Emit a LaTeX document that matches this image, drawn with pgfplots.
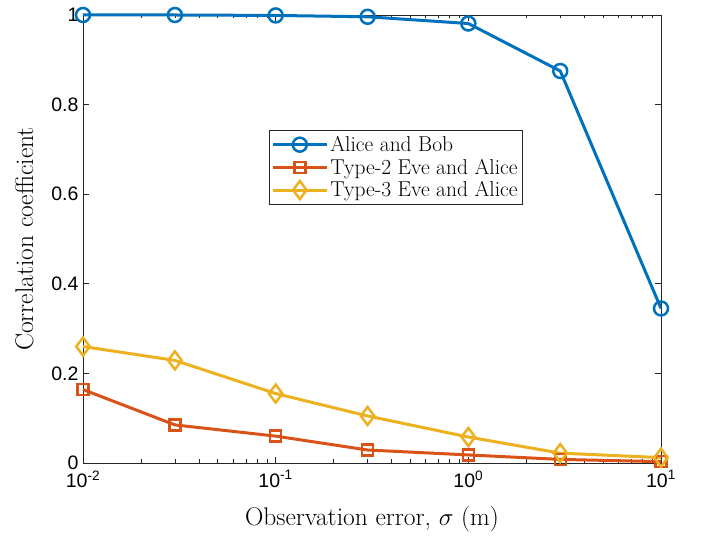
\documentclass[border=0pt]{standalone}
\usepackage{pgfplots}
\pgfplotsset{compat=1.18}
\usepackage{fontspec}
\newfontfamily\tickfont{Liberation Sans}
\definecolor{mblue}{rgb}{0,0.447,0.741}
\definecolor{morange}{rgb}{0.85,0.325,0.098}
\definecolor{myellow}{rgb}{0.929,0.694,0.125}
\definecolor{maxis}{rgb}{0.15,0.15,0.15}
\begin{document}
\begin{tikzpicture}
\path (-83pt,-72pt) rectangle (622pt,463pt);
\begin{axis}[
  at={(0pt,0pt)}, anchor=south west,
  scale only axis, width=578pt, height=448pt,
  xmode=log, xmin=0.01, xmax=10, ymin=0, ymax=1,
  xtick={0.01,0.1,1,10},
  xticklabels={10\textsuperscript{-2},10\textsuperscript{-1},10\textsuperscript{0},10\textsuperscript{1}},
  ytick={0,0.2,0.4,0.6,0.8,1},
  yticklabels={0,0.2,0.4,0.6,0.8,1},
  tick label style={font=\tickfont\fontsize{19.5}{22}\selectfont, text=black},
  xticklabel style={yshift=-4pt},
  yticklabel style={xshift=-1pt},
  tick align=inside, major tick length=6pt, minor tick length=3.5pt,
  axis line style={maxis, line width=0.6pt},
  every tick/.style={maxis, line width=0.6pt},
  xlabel={Observation error, $\sigma$ (m)},
  ylabel={Correlation coefficient},
  label style={font=\fontsize{25.5}{30}\selectfont},
  xlabel style={yshift=-12pt},
  ylabel style={yshift=11pt},
  legend style={at={(0.322,0.743)}, anchor=north west, font=\fontsize{21.5}{25}\selectfont,
    draw=maxis, inner xsep=2pt, inner ysep=4pt, row sep=2pt, cells={anchor=west}},
  legend cell align=left,
  legend image code/.code={\draw[mark repeat=2,mark phase=2,#1,line width=3pt] plot coordinates {(0pt,0pt) (27pt,0pt) (54pt,0pt)};},
  clip=false,
]
\addplot[mblue, line width=3pt, mark=o, mark size=7pt, mark options={solid, fill=none, line width=2.5pt}]
  coordinates {(0.01,1.0) (0.03,1.0) (0.1,0.999) (0.3,0.996) (1,0.981) (3,0.875) (10,0.345)};
\addlegendentry{Alice and Bob}
\addplot[morange, line width=3pt, mark=square, mark size=5.5pt, mark options={solid, fill=none, line width=2.5pt}]
  coordinates {(0.01,0.164) (0.03,0.085) (0.1,0.060) (0.3,0.029) (1,0.018) (3,0.008) (10,0.003)};
\addlegendentry{Type-2 Eve and Alice}
\addplot[myellow, line width=3pt, mark=diamond, mark size=9pt, mark options={solid, fill=none, line width=2.5pt}]
  coordinates {(0.01,0.260) (0.03,0.229) (0.1,0.155) (0.3,0.105) (1,0.058) (3,0.022) (10,0.012)};
\addlegendentry{Type-3 Eve and Alice}
\end{axis}
\end{tikzpicture}
\end{document}
